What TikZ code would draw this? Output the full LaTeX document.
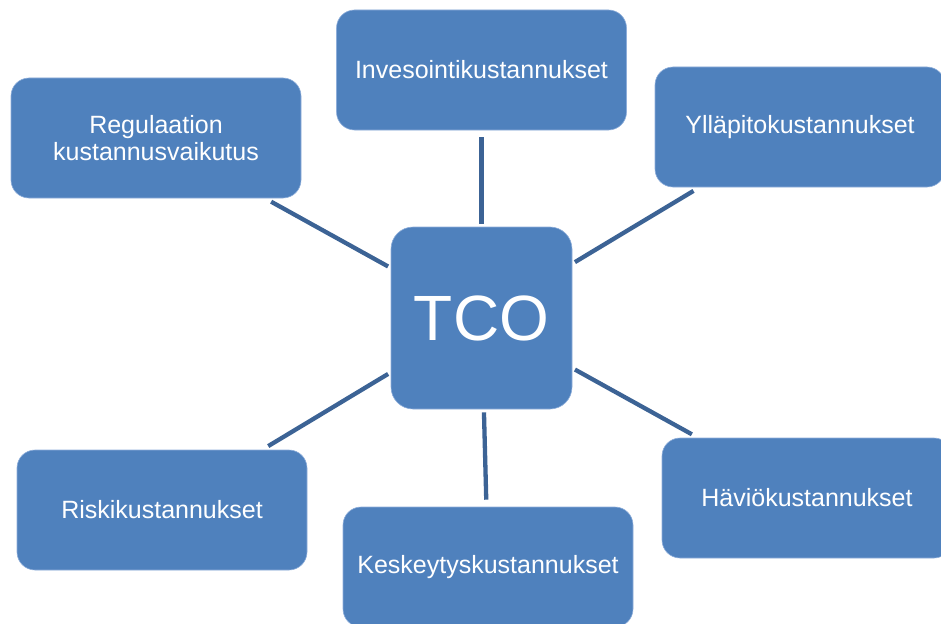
\documentclass[tikz,border=0pt]{standalone}
\usepackage{fontspec}
\setmainfont{Liberation Sans}
\usetikzlibrary{arrows.meta}
\definecolor{boxblue}{HTML}{4F81BD}
\definecolor{linkblue}{HTML}{3C6395}
\definecolor{boxedge}{HTML}{8EAEDA}

\begin{document}
\begin{tikzpicture}[x=1pt, y=-1pt, font=\fontsize{25}{26.5}\selectfont, >=Latex]
  \tikzstyle{box}=[draw=boxedge, line width=0.6pt, fill=boxblue, rounded corners=18pt, text=white, align=center, minimum width=290pt, minimum height=120pt, inner sep=0pt]
  \tikzstyle{link}=[draw=linkblue, line width=4.3pt, shorten <=3pt, shorten >=7pt]
  \useasboundingbox (0,0) rectangle (941,623);
  \clip (0,0) rectangle (941,623);

  \node[box, minimum width=181pt, minimum height=182pt, rounded corners=22pt, font=\fontsize{64}{70}\selectfont] (tco) at (481.5,318) {TCO};

  \node[box] (inv) at (481.5,70) {Invesointikustannukset};
  \node[box] (reg) at (156,138) {Regulaation\\kustannusvaikutus};
  \node[box] (yll) at (800,127) {Ylläpitokustannukset};
  \node[box] (ris) at (162,510) {Riskikustannukset};
  \node[box] (kes) at (488,567) {Keskeytyskustannukset};
  \node[box] (hav) at (807,498) {Häviökustannukset};

  \draw[link] (tco) -- (inv);
  \draw[link] (tco) -- (reg);
  \draw[link] (tco) -- (yll);
  \draw[link] (tco) -- (ris);
  \draw[link] (tco) -- (kes);
  \draw[link] (tco) -- (hav);
\end{tikzpicture}
\end{document}
